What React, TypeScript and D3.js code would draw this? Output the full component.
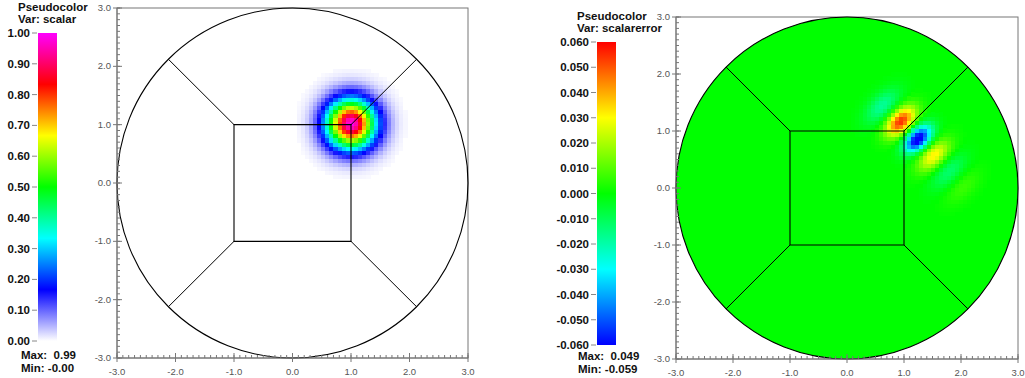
import React from "react";
import * as d3 from "d3";

// ---------- data ----------
const axisMajorTicks = [-3, -2, -1, 0, 1, 2, 3];
const axisMinorTicks = d3.range(-30, 31).map((i) => i / 10);

const scalarLegendTicks = [0, 0.1, 0.2, 0.3, 0.4, 0.5, 0.6, 0.7, 0.8, 0.9, 1.0];
const errorLegendTicks = [0.06, 0.05, 0.04, 0.03, 0.02, 0.01, 0, -0.01, -0.02, -0.03, -0.04, -0.05, -0.06];

const scalarStops = [0, 1 / 6, 2 / 6, 3 / 6, 4 / 6, 5 / 6, 1];
const scalarColors = ["#ffffff", "#0000ff", "#00ffff", "#00ff00", "#ffff00", "#ff0000", "#ff00ff"];
const errorStops = [-0.06, -0.03, 0, 0.03, 0.06];
const errorColors = ["#0000ff", "#00ffff", "#00ff00", "#ffff00", "#ff0000"];

// Field features: centre, amplitude, widths (along wave / across), angle (deg)
const scalarPeaks = [{ x: 1.0, y: 1.02, amp: 0.99, su: 0.29, sv: 0.29, ang: 0 }];
const errorPeaks = [
  { x: 0.94, y: 1.18, amp: 0.055, su: 0.13, sv: 0.22, ang: -45 },
  { x: 1.24, y: 0.87, amp: -0.066, su: 0.12, sv: 0.2, ang: -45 },
  { x: 1.52, y: 0.57, amp: 0.032, su: 0.13, sv: 0.24, ang: -45 },
  { x: 0.62, y: 1.45, amp: -0.018, su: 0.14, sv: 0.26, ang: -45 },
  { x: 1.78, y: 0.28, amp: -0.013, su: 0.14, sv: 0.27, ang: -45 },
  { x: 2.02, y: 0.02, amp: 0.007, su: 0.14, sv: 0.27, ang: -45 },
];

const squareCorners = [[-1, -1], [1, -1], [1, 1], [-1, 1]];
const meshRadius = 3;

// ---------- helpers ----------
const loc = d3.formatLocale({ decimal: ".", thousands: ",", grouping: [3], currency: ["", ""], minus: "-" });
const f1 = loc.format(".1f");
const f2 = loc.format(".2f");
const f3 = loc.format(".3f");

function fieldValue(px: number, py: number, peaks: typeof errorPeaks) {
  let s = 0;
  for (const p of peaks) {
    const a = (p.ang * Math.PI) / 180;
    const dx = px - p.x, dy = py - p.y;
    const u = dx * Math.cos(a) + dy * Math.sin(a);
    const v = -dx * Math.sin(a) + dy * Math.cos(a);
    s += p.amp * Math.exp(-(u * u) / (2 * p.su * p.su) - (v * v) / (2 * p.sv * p.sv));
  }
  return s;
}

const FONT = "'Liberation Sans', Arial, sans-serif";

type PanelProps = {
  id: string;
  left: number; right: number; top: number; bottom: number;
  peaks: typeof errorPeaks;
  color: (v: number) => string;
  filled: boolean;
  threshold: number;
};

function Panel({ id, left, right, top, bottom, peaks, color, filled, threshold }: PanelProps) {
  const xs = d3.scaleLinear().domain([-3, 3]).range([left, right]);
  const ys = d3.scaleLinear().domain([-3, 3]).range([bottom, top]);
  const h = 0.07;
  const cells: { x0: number; y0: number; v: number }[] = [];
  const n = Math.ceil(3 / h);
  for (let i = -n; i < n; i++) {
    for (let j = -n; j < n; j++) {
      const x0 = i * h, y0 = j * h;
      const v = fieldValue(x0 + h / 2, y0 + h / 2, peaks);
      if (Math.abs(v) > threshold) cells.push({ x0, y0, v });
    }
  }
  const cx = xs(0), cy = ys(0);
  const rx = xs(meshRadius) - xs(0), ry = ys(0) - ys(meshRadius);
  const diag = meshRadius / Math.SQRT2;
  const sq = squareCorners.map(([a, b]) => `${xs(a)},${ys(b)}`).join(" ");
  const axisColor = "#777";
  const textColor = "#555";
  return (
    <g>
      <defs>
        <clipPath id={`clip-${id}`}>
          <ellipse cx={cx} cy={cy} rx={rx} ry={ry} />
        </clipPath>
      </defs>
      <rect x={left} y={top} width={right - left} height={bottom - top} fill="none" stroke={axisColor} strokeWidth={1} />
      {filled && <ellipse cx={cx} cy={cy} rx={rx} ry={ry} fill={color(0)} />}
      <g clipPath={`url(#clip-${id})`} shapeRendering="crispEdges">
        {cells.map((c, k) => (
          <rect
            key={k}
            x={xs(c.x0)}
            y={ys(c.y0 + h)}
            width={xs(c.x0 + h) - xs(c.x0) + 0.4}
            height={ys(c.y0) - ys(c.y0 + h) + 0.4}
            fill={color(c.v)}
          />
        ))}
      </g>
      <ellipse cx={cx} cy={cy} rx={rx} ry={ry} fill="none" stroke="#000" strokeWidth={1.1} />
      <polygon points={sq} fill="none" stroke="#000" strokeWidth={1.1} />
      {squareCorners.map(([a, b], k) => (
        <line key={k} x1={xs(a)} y1={ys(b)} x2={xs(Math.sign(a) * diag)} y2={ys(Math.sign(b) * diag)} stroke="#000" strokeWidth={1} />
      ))}
      {/* axes */}
      <line x1={left} y1={top} x2={left} y2={bottom} stroke={axisColor} />
      <line x1={left} y1={bottom} x2={right} y2={bottom} stroke={axisColor} />
      {axisMinorTicks.map((t, k) => (
        <g key={k}>
          <line x1={left} x2={left + 3} y1={ys(t)} y2={ys(t)} stroke={axisColor} />
          <line x1={xs(t)} x2={xs(t)} y1={bottom} y2={bottom - 3} stroke={axisColor} />
        </g>
      ))}
      {axisMajorTicks.map((t, k) => (
        <g key={k}>
          <line x1={left - 4} x2={left + 5} y1={ys(t)} y2={ys(t)} stroke={axisColor} />
          <line x1={xs(t)} x2={xs(t)} y1={bottom + 4} y2={bottom - 5} stroke={axisColor} />
          <text x={left - 6} y={ys(t) + 3} textAnchor="end" fontSize={9.5} fill={textColor} fontFamily={FONT}>{f1(t)}</text>
          <text x={xs(t)} y={bottom + 17} textAnchor="middle" fontSize={9.5} fill={textColor} fontFamily={FONT}>{f1(t)}</text>
        </g>
      ))}
    </g>
  );
}

type LegendProps = {
  id: string;
  x: number; top: number; bottom: number; width: number;
  titleX: number; titleY: number; varName: string;
  ticks: number[]; domain: [number, number]; fmt: (v: number) => string;
  stops: number[]; colors: string[];
  maxText: string; minText: string; mmX: number; mmY: number;
};

function Legend(p: LegendProps) {
  const s = d3.scaleLinear().domain(p.domain).range([p.bottom, p.top]);
  const [d0, d1] = p.domain;
  return (
    <g fontFamily={FONT} fontWeight="bold" fill="#111">
      <defs>
        <linearGradient id={`grad-${p.id}`} x1="0" y1="1" x2="0" y2="0">
          {p.stops.map((st, k) => (
            <stop key={k} offset={(st - d0) / (d1 - d0)} stopColor={p.colors[k]} />
          ))}
        </linearGradient>
      </defs>
      <text x={p.titleX} y={p.titleY} fontSize={11.5}>Pseudocolor</text>
      <text x={p.titleX} y={p.titleY + 12} fontSize={11.5}>{`Var: ${p.varName}`}</text>
      <rect x={p.x} y={p.top} width={p.width} height={p.bottom - p.top} fill={`url(#grad-${p.id})`} />
      {p.ticks.map((t, k) => (
        <g key={k}>
          <line x1={p.x - 6} x2={p.x - 1} y1={s(t)} y2={s(t)} stroke="#888" />
          <text x={p.x - 8} y={s(t) + 4} textAnchor="end" fontSize={11.5}>{p.fmt(t)}</text>
        </g>
      ))}
      <text x={p.mmX} y={p.mmY} fontSize={11.5} style={{ whiteSpace: "pre" }}>{p.maxText}</text>
      <text x={p.mmX} y={p.mmY + 13} fontSize={11.5} style={{ whiteSpace: "pre" }}>{p.minText}</text>
    </g>
  );
}

export default function App() {
  const scalarColor = d3.scaleLinear<string>().domain(scalarStops).range(scalarColors).clamp(true);
  const errorColor = d3.scaleLinear<string>().domain(errorStops).range(errorColors).clamp(true);
  return (
    <svg width={1025} height={378} style={{ position: "absolute", left: 0, top: 0, background: "#fff" }}>
      <rect width={1025} height={378} fill="#fff" />
      <Legend
        id="s" x={38} top={33} bottom={341} width={19}
        titleX={18} titleY={11} varName="scalar"
        ticks={scalarLegendTicks} domain={[0, 1]} fmt={f2}
        stops={scalarStops} colors={scalarColors}
        maxText="Max:  0.99" minText="Min: -0.00" mmX={21} mmY={359}
      />
      <Panel id="a" left={117} right={468} top={8} bottom={358} peaks={scalarPeaks} color={(v) => scalarColor(v)} filled={false} threshold={0.004} />
      <Legend
        id="e" x={597} top={42} bottom={345} width={19}
        titleX={577} titleY={20} varName="scalarerror"
        ticks={errorLegendTicks} domain={[-0.06, 0.06]} fmt={f3}
        stops={errorStops} colors={errorColors}
        maxText="Max:  0.049" minText="Min: -0.059" mmX={578} mmY={360}
      />
      <Panel id="b" left={676} right={1018} top={17} bottom={359} peaks={errorPeaks} color={(v) => errorColor(v)} filled={true} threshold={0.0004} />
    </svg>
  );
}
